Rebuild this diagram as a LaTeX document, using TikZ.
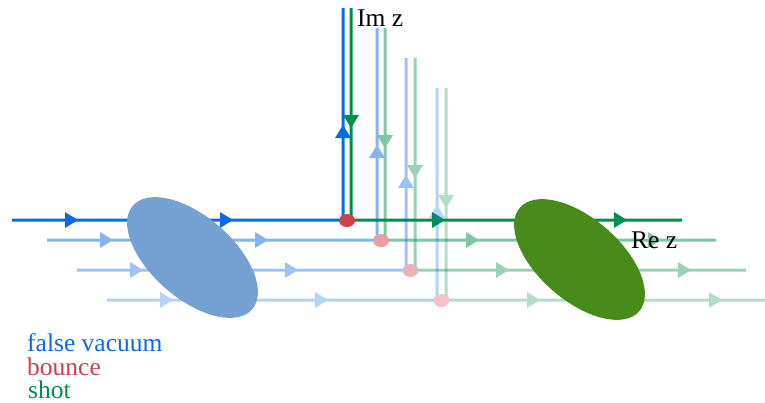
\documentclass[tikz,border=0pt]{standalone}
\usepackage{fontspec}
\setmainfont{Liberation Serif}
\definecolor{cB}{HTML}{0A6AE6}
\definecolor{cG}{HTML}{00904A}
\definecolor{cR}{HTML}{D0404A}
\definecolor{eB}{HTML}{74A1D2}
\definecolor{eG}{HTML}{488B1A}
\tikzset{
  bl/.style={draw=cB, line width=3pt},
  gr/.style={draw=cG, line width=3pt},
  arR/.pic={\fill (0,0) -- (-13,-8) -- (-13,8) -- cycle;},
  arU/.pic={\fill (0,0) -- (-8,13) -- (8,13) -- cycle;},
  arD/.pic={\fill (0,0) -- (-8,-13) -- (8,-13) -- cycle;},
  lbl/.style={anchor=base west, inner sep=0pt, font=\fontsize{25.5}{29}\selectfont},
}
% #1 opacity, #2 y, #3 xstart, #4 x blue vertical, #5 x green vertical, #6 top, #7 xend
\newcommand\drawlayer[7]{%
\begin{scope}[transparency group, opacity=#1]
  \draw[bl] (#3,#2) -- (#4,#2) -- (#4,#6);
  \draw[gr] (#5,#6) -- (#5,#2) -- (#7,#2);
  \pic[fill=cB] at (#3+66,#2) {arR};
  \pic[fill=cB] at (#3+221,#2) {arR};
  \pic[fill=cB] at (#4,#2-95) {arU};
  \pic[fill=cG] at (#5,#6+120) {arD};
  \pic[fill=cG] at (#5+94,#2) {arR};
  \pic[fill=cG] at (#5+276,#2) {arR};
  \fill[cR] ({(#4+#5)/2},#2+0.5) ellipse [x radius=8, y radius=6.5];
\end{scope}}
\begin{document}
\begin{tikzpicture}[x=1pt, y=-1pt]
\useasboundingbox (0,0) rectangle (765,402);
\drawlayer{1}{220}{12}{343}{351}{8}{682}
\drawlayer{0.5}{240}{47}{377}{385}{28}{716}
\drawlayer{0.4}{270}{77}{406}{415}{58}{746}
\drawlayer{0.3}{300}{107}{437}{446}{88}{780}
\fill[eB, rotate around={-41:(192.5,257.5)}] (192.5,257.5) ellipse [x radius=79, y radius=41];
\fill[eG, rotate around={-41:(579.5,259.5)}] (579.5,259.5) ellipse [x radius=79, y radius=41];
\node[lbl] (im) at (357,26) {Im z};
\node[lbl] (re) at (631,248) {Re z};
\node[lbl, text=cB] (fv) at (27,351) {false vacuum};
\node[lbl, text=cR] (bo) at (27,375) {bounce};
\node[lbl, text=cG] (sh) at (28,398) {shot};
\end{tikzpicture}
\end{document}
